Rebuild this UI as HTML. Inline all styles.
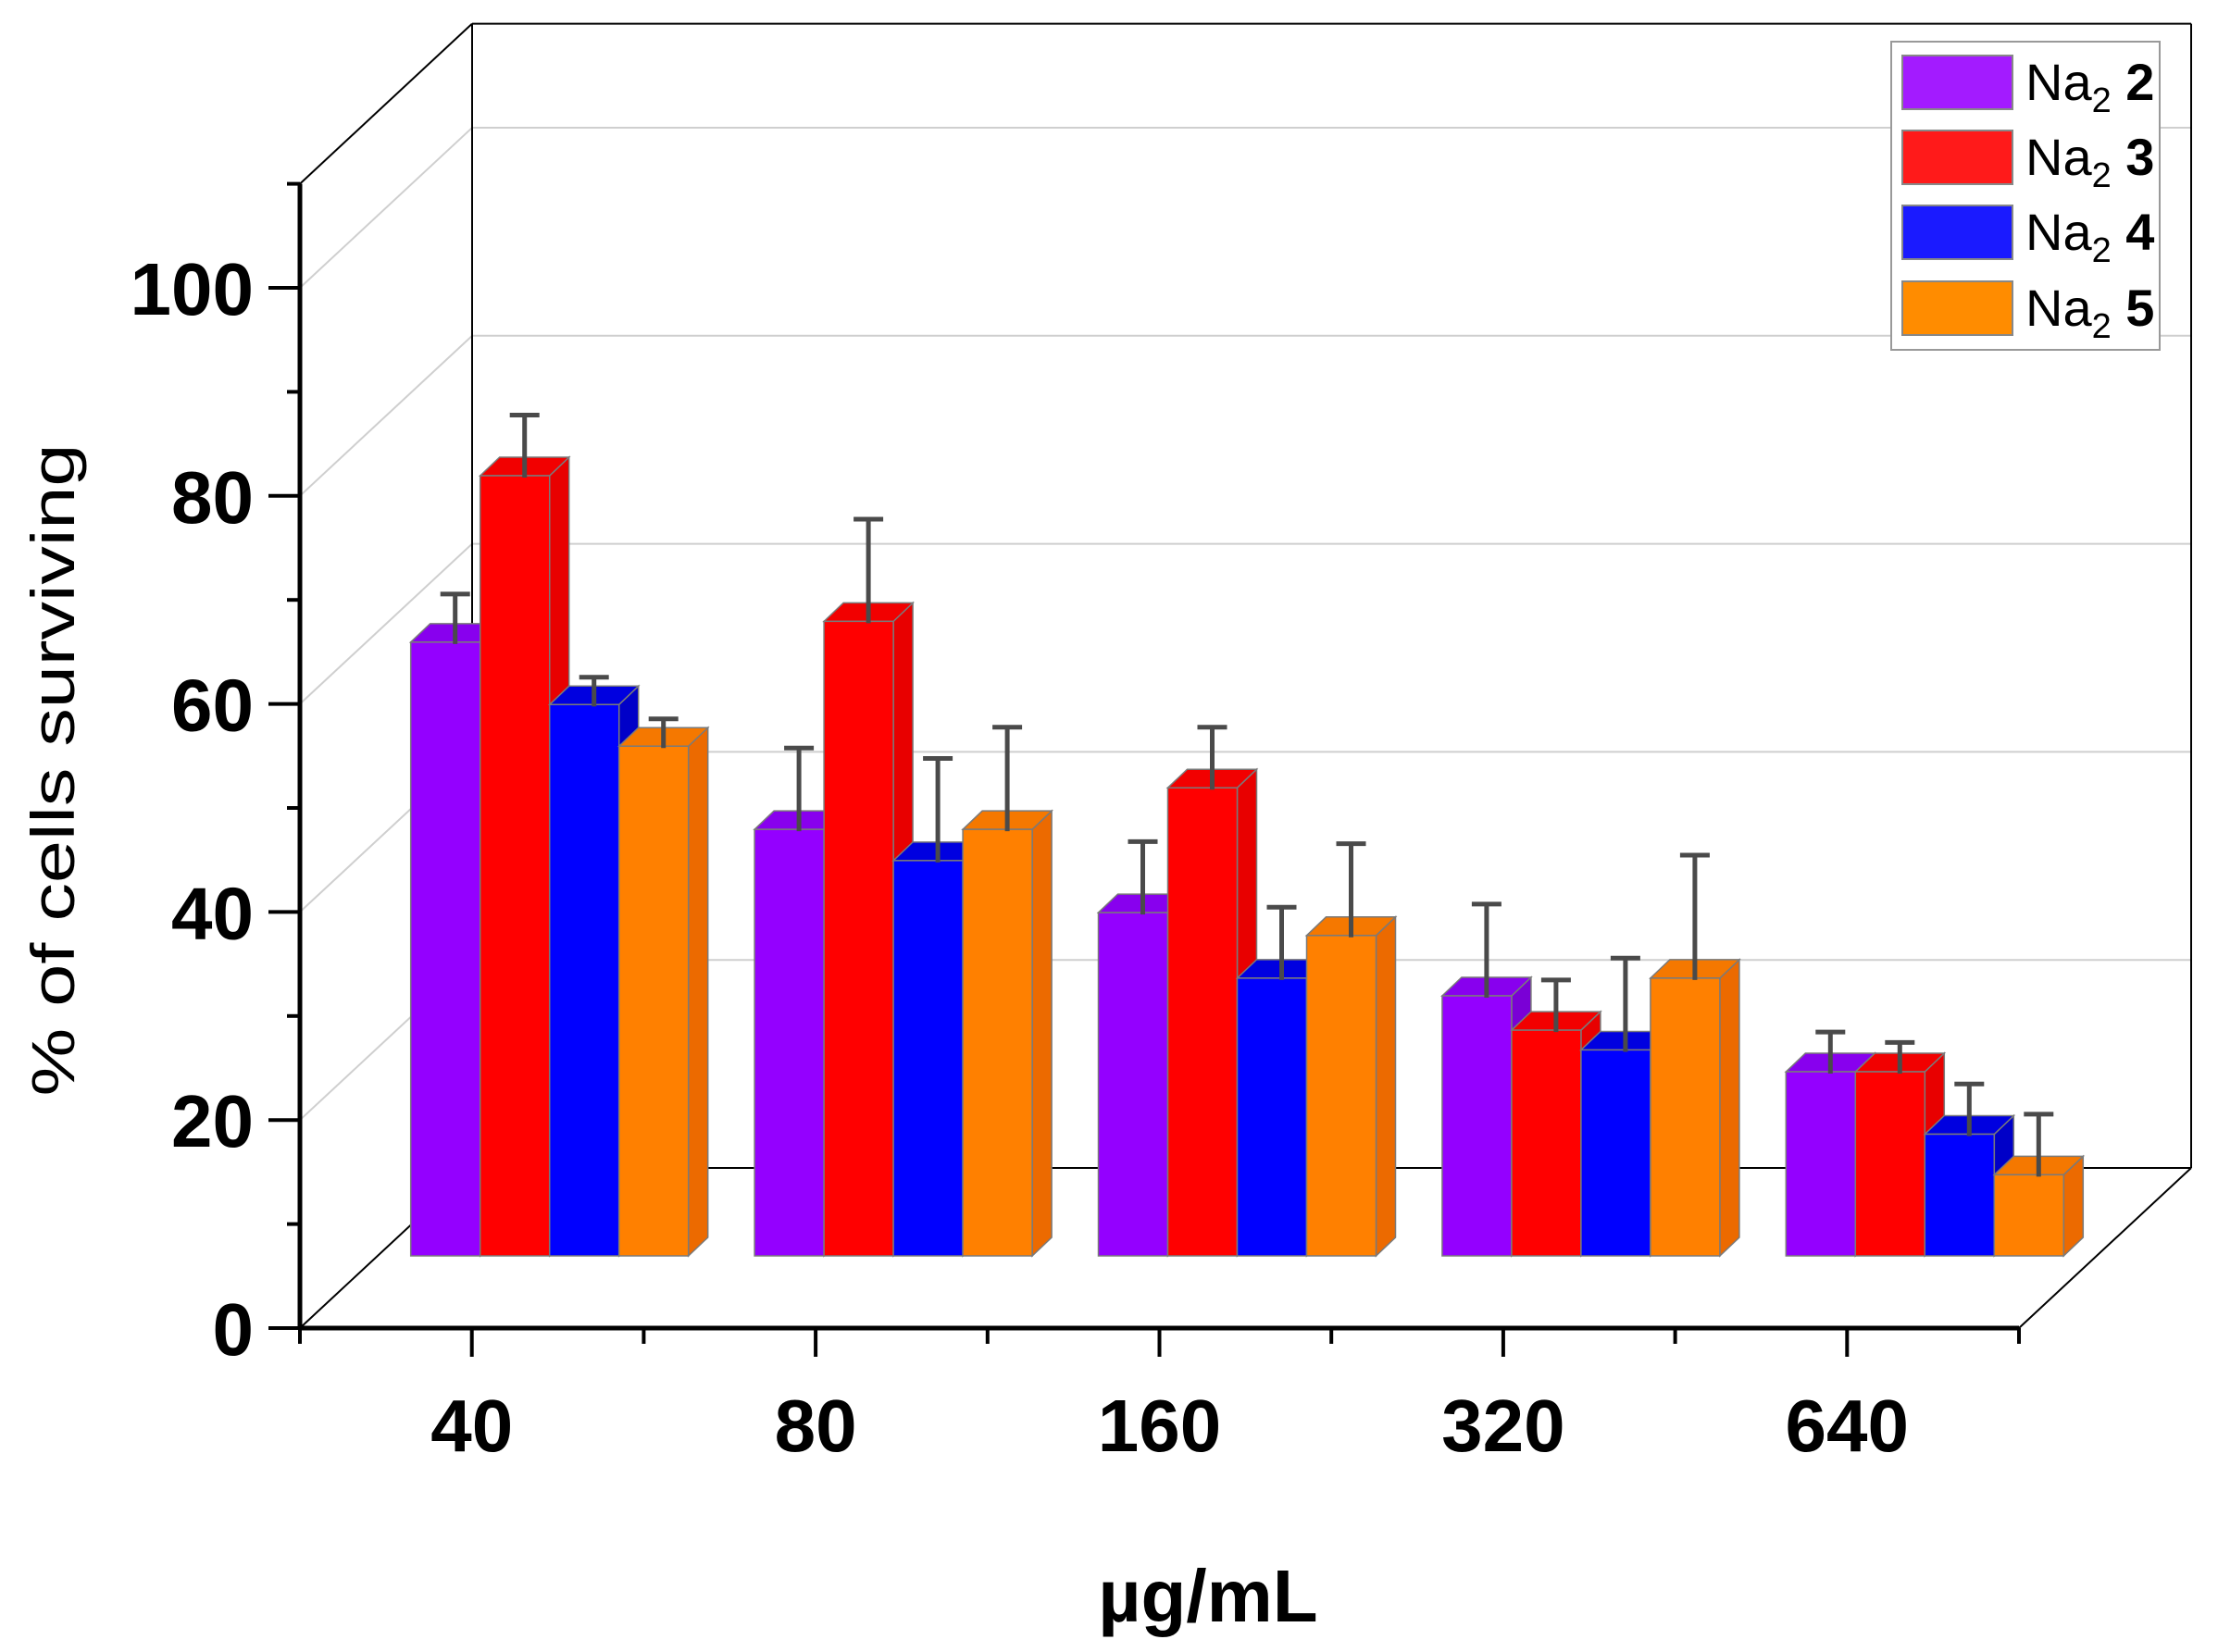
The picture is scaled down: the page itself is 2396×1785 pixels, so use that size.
<!DOCTYPE html>
<html><head><meta charset="utf-8"><style>
html,body{margin:0;padding:0;background:#fff;}
svg{display:block;font-family:"Liberation Sans",Arial,sans-serif;}
</style></head><body>
<svg id="chart" width="2396" height="1785" viewBox="0 0 2396 1785" xmlns="http://www.w3.org/2000/svg">
<g id="walls"></g>
<g id="bars"></g>
<g id="axes"></g>
<text x="0" y="0" transform="translate(80,832) rotate(-90)" text-anchor="middle" font-size="66" textLength="705" lengthAdjust="spacingAndGlyphs">% of cells surviving</text>
<text x="1305" y="1752" text-anchor="middle" font-size="80" font-weight="bold">µg/mL</text>
<g>
<rect x="2043" y="45" width="290" height="333" fill="#fff" stroke="#999" stroke-width="2"/>
<rect x="2055" y="60" width="119" height="58" fill="#a31bff" stroke="#888" stroke-width="2"/>
<text x="2188" y="108" font-size="56">Na<tspan font-size="38" dy="13">2</tspan><tspan dy="-13" font-weight="bold"> 2</tspan></text>
<rect x="2055" y="141" width="119" height="58" fill="#ff1a1a" stroke="#888" stroke-width="2"/>
<text x="2188" y="189" font-size="56">Na<tspan font-size="38" dy="13">2</tspan><tspan dy="-13" font-weight="bold"> 3</tspan></text>
<rect x="2055" y="222" width="119" height="58" fill="#1a1aff" stroke="#888" stroke-width="2"/>
<text x="2188" y="270" font-size="56">Na<tspan font-size="38" dy="13">2</tspan><tspan dy="-13" font-weight="bold"> 4</tspan></text>
<rect x="2055" y="304" width="119" height="58" fill="#ff8c00" stroke="#888" stroke-width="2"/>
<text x="2188" y="352" font-size="56">Na<tspan font-size="38" dy="13">2</tspan><tspan dy="-13" font-weight="bold"> 5</tspan></text>
</g>
</svg>
<script>
const categories = ["40","80","160","320","640"];
const seriesNames = ["Na2 2","Na2 3","Na2 4","Na2 5"];
const na2_2 = [59, 41, 33, 25, 17.7];
const na2_3 = [75, 61, 45, 21.7, 17.7];
const na2_4 = [53, 38, 26.7, 19.8, 11.7];
const na2_5 = [49, 41, 30.8, 26.7, 7.8];
const err2 = [4.8, 8, 7, 9, 4];
const err3 = [6, 10, 6, 5, 3];
const err4 = [2.8, 10, 7, 9, 5];
const err5 = [2.8, 10, 9, 12, 6];
const yTicks = [0,20,40,60,80,100];
const yMax = 110;

const NS = "http://www.w3.org/2000/svg";
const O = {x:324, y:1435}, UNIT = 11.24, DX = 186, DY = -173, SX = 84, SY = -78;
const plotW = 1857, catW = plotW / categories.length, barW = 75, bdx = 21, bdy = -20;
function yv(v){ return O.y - v*UNIT; }
function xc(i){ return O.x + (i+0.5)*catW; }
function mk(parent, tag, attrs){ const e = document.createElementNS(NS, tag); for (const k in attrs) e.setAttribute(k, attrs[k]); parent.appendChild(e); return e; }

const walls = document.getElementById('walls');
const axes = document.getElementById('axes');
const bars = document.getElementById('bars');
const xEnd = O.x + plotW;
for (let v = 20; v <= 100; v += 20) {
  const g = mk(walls,'line',{x1:O.x,y1:yv(v),x2:O.x+DX,y2:yv(v)+DY,stroke:'#cfcfcf','stroke-width':2});
  
  
  const b = mk(walls,'line',{x1:O.x+DX,y1:yv(v)+DY,x2:xEnd+DX,y2:yv(v)+DY,stroke:'#cfcfcf','stroke-width':2});
  
  
}
const lines = [
  [O.x, yv(0), O.x+DX, yv(0)+DY],
  [O.x, yv(yMax), O.x+DX, yv(yMax)+DY],
  [O.x+DX, yv(yMax)+DY, xEnd+DX, yv(yMax)+DY],
  [O.x+DX, yv(yMax)+DY, O.x+DX, yv(0)+DY],
  [O.x+DX, yv(0)+DY, xEnd+DX, yv(0)+DY],
  [xEnd+DX, yv(yMax)+DY, xEnd+DX, yv(0)+DY],
  [xEnd, yv(0), xEnd+DX, yv(0)+DY]
];
lines.forEach(function(l){
  const e = mk(walls,'line',{x1:l[0],y1:l[1],x2:l[2],y2:l[3],stroke:'#000','stroke-width':2});
  
  
});

const vals = [na2_2, na2_3, na2_4, na2_5];
const errs = [err2, err3, err4, err5];
const front = ['#9400ff','#ff0000','#0000ff','#ff8000'];
const side = ['#7a00d6','#e80000','#0000c8','#ec6a00'];
const top_ = ['#8800ee','#f20000','#0000e0','#f57800'];
for (let i = 0; i < categories.length; i++) {
  const gx = xc(i) + SX - 2*barW;
  const by = yv(0) + SY;
  for (let s = 0; s < 4; s++) {
    const v = vals[s][i], x = gx + s*barW, ty = by - v*UNIT;
    const p = 'stroke:#7a7a7a;stroke-width:1.5';
    const sd = mk(bars,'polygon',{points:`${x+barW},${by} ${x+barW+bdx},${by+bdy} ${x+barW+bdx},${ty+bdy} ${x+barW},${ty}`,fill:side[s],style:p});
    
    
    const tp = mk(bars,'polygon',{points:`${x},${ty} ${x+bdx},${ty+bdy} ${x+barW+bdx},${ty+bdy} ${x+barW},${ty}`,fill:top_[s],style:p});
    
    
    const fr = mk(bars,'rect',{x:x,y:ty,width:barW,height:by-ty,fill:front[s],style:p});
    
    
    const ex = x + barW/2 + bdx/2, ey = ty + 2, et = ey - errs[s][i]*UNIT;
    const el = mk(bars,'line',{x1:ex,y1:ey,x2:ex,y2:et,stroke:'#4a4a4a','stroke-width':5});
    
    
    const ec = mk(bars,'line',{x1:ex-16,y1:et,x2:ex+16,y2:et,stroke:'#4a4a4a','stroke-width':5});
    
    
  }
}

const ya = mk(axes,'line',{x1:O.x,y1:yv(0)+2,x2:O.x,y2:yv(yMax),stroke:'#000','stroke-width':5});


const xa = mk(axes,'line',{x1:O.x-2,y1:yv(0),x2:xEnd,y2:yv(0),stroke:'#000','stroke-width':5});


for (let v = 0; v <= yMax; v += 10) {
  const major = yTicks.indexOf(v) >= 0;
  const t = mk(axes,'line',{x1:O.x-(major?34:14),y1:yv(v),x2:O.x,y2:yv(v),stroke:'#000','stroke-width':4});
  
  
}
yTicks.forEach(function(v){
  const t = mk(axes,'text',{x:274,y:yv(v)+29,'text-anchor':'end','font-size':80,'font-weight':'bold'});
  t.textContent = String(v);
  
  
});
for (let k = 0; k <= categories.length*2; k++) {
  const x = O.x + k*catW/2;
  const major = k % 2 === 1;
  const t = mk(axes,'line',{x1:x,y1:yv(0),x2:x,y2:yv(0)+(major?31:17),stroke:'#000','stroke-width':4});
  
  
}
categories.forEach(function(c, i){
  const t = mk(axes,'text',{x:xc(i),y:1568,'text-anchor':'middle','font-size':80,'font-weight':'bold'});
  t.textContent = c;
  
  
});
</script>
</body></html>
